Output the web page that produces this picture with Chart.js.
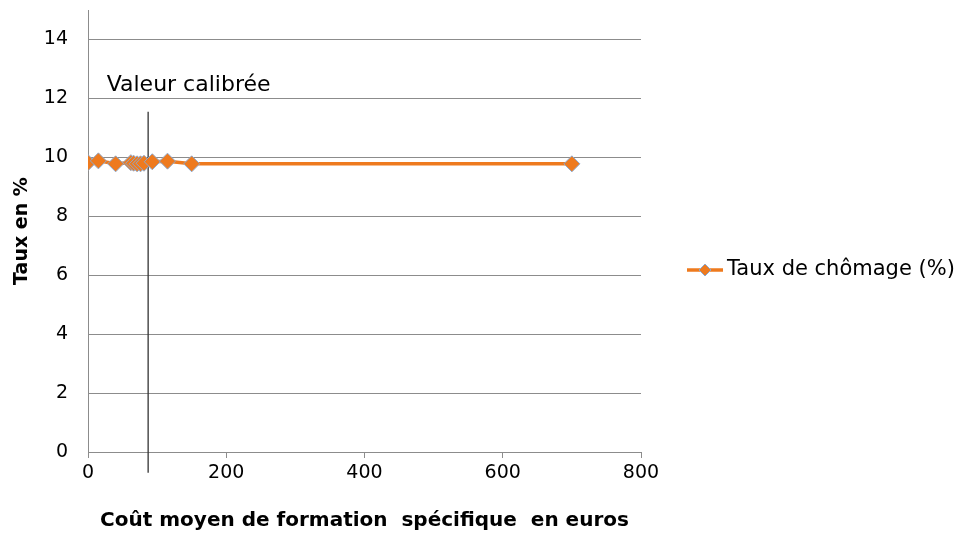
<!DOCTYPE html>
<html lang="fr">
<head>
<meta charset="UTF-8">
<title>Taux de chômage selon le coût de formation</title>
<style>
  html, body { margin: 0; padding: 0; background: #fff; }
  #wrap { position: relative; width: 961px; height: 533px; }
</style>
</head>
<body>
<div id="wrap"><canvas id="chomage"></canvas></div>

<script src="https://cdn.jsdelivr.net/npm/chart.js"></script>
<script>
// coût moyen de formation spécifique (euros) et taux de chômage (%)
const couts = [0, 15, 40, 62, 66, 71, 76, 81, 93, 115, 150, 700];
const taux  = [9.82, 9.88, 9.78, 9.82, 9.8, 9.78, 9.78, 9.8, 9.85, 9.87, 9.78, 9.78];

// repère vertical : valeur calibrée
const coutCalibre = [87, 87];
const repereY = [11.55, -0.7];

const xTicks = [0, 200, 400, 600, 800];
const yTicks = [0, 2, 4, 6, 8, 10, 12, 14];

const serieNom = 'Taux de chômage (%)';
const repereNom = 'Valeur calibrée';
const orange = '#EE7A1E';
const police = '"DejaVu Sans", "Open Sans", sans-serif';
const gris = '#8c8c8c';

// texte "Valeur calibrée" posé au-dessus du repère
const labelRepere = {
  id: 'labelRepere',
  afterDatasetsDraw(chart) {
    const { ctx, scales } = chart;
    ctx.save();
    ctx.font = '22px ' + police;
    ctx.fillStyle = '#000';
    ctx.textAlign = 'left';
    ctx.textBaseline = 'middle';
    ctx.fillText(repereNom, scales.x.getPixelForValue(27), scales.y.getPixelForValue(12.45));
    ctx.restore();
  }
};

// légende à droite : trait + losange
const legendeDroite = {
  id: 'legendeDroite',
  afterDraw(chart) {
    const { ctx } = chart;
    const x0 = 687, y0 = 270;
    ctx.save();
    ctx.strokeStyle = orange;
    ctx.lineWidth = 3.5;
    ctx.beginPath();
    ctx.moveTo(x0, y0);
    ctx.lineTo(x0 + 36, y0);
    ctx.stroke();
    ctx.beginPath();
    ctx.moveTo(x0 + 18, y0 - 6);
    ctx.lineTo(x0 + 24, y0);
    ctx.lineTo(x0 + 18, y0 + 6);
    ctx.lineTo(x0 + 12, y0);
    ctx.closePath();
    ctx.fillStyle = orange;
    ctx.fill();
    ctx.strokeStyle = '#8ea8cc';
    ctx.lineWidth = 1;
    ctx.stroke();
    ctx.font = '21px ' + police;
    ctx.fillStyle = '#000';
    ctx.textAlign = 'left';
    ctx.textBaseline = 'middle';
    ctx.fillText(serieNom, x0 + 40, y0);
    ctx.restore();
  }
};

new Chart(document.getElementById('chomage'), {
  type: 'line',
  data: {
    datasets: [
      {
        label: serieNom,
        data: couts.map((c, i) => ({ x: c, y: taux[i] })),
        borderColor: orange,
        backgroundColor: orange,
        borderWidth: 3.5,
        pointStyle: 'rectRot',
        pointRadius: 8,
        pointBorderColor: '#8ea8cc',
        pointBorderWidth: 1,
        pointBackgroundColor: orange,
        tension: 0
      },
      {
        label: repereNom,
        data: coutCalibre.map((c, i) => ({ x: c, y: repereY[i] })),
        borderColor: '#333',
        borderWidth: 1.3,
        pointRadius: 0,
        clip: false
      }
    ]
  },
  options: {
    responsive: true,
    maintainAspectRatio: false,
    animation: false,
    layout: { padding: { top: 10, right: 320, left: 0, bottom: 0 } },
    plugins: {
      legend: { display: false },
      tooltip: { enabled: false }
    },
    scales: {
      x: {
        type: 'linear',
        min: 0,
        max: 800,
        afterBuildTicks: s => { s.ticks = xTicks.map(v => ({ value: v })); },
        afterFit: s => { s.height = 81; s.paddingLeft = 0; s.paddingRight = 0; },
        grid: { drawOnChartArea: false, drawTicks: true, tickLength: 6, color: gris },
        border: { color: gris, width: 1 },
        ticks: { font: { family: police, size: 19 }, color: '#000', padding: 4, maxRotation: 0 },
        title: {
          display: true,
          text: 'Coût moyen de formation  spécifique  en euros',
          font: { family: police, size: 20, weight: 'bold' },
          color: '#000',
          padding: { top: 3, bottom: 0 }
        }
      },
      y: {
        min: 0,
        max: 15,
        afterBuildTicks: s => { s.ticks = yTicks.map(v => ({ value: v })); },
        afterFit: s => { s.width = 88; s.paddingTop = 0; s.paddingBottom = 0; },
        grid: { drawTicks: false, color: gris },
        border: { color: gris, width: 1 },
        ticks: { font: { family: police, size: 19 }, color: '#000', padding: 20 },
        title: {
          display: true,
          text: 'Taux en %',
          font: { family: police, size: 19, weight: 'bold' },
          color: '#000',
          padding: { top: 11, bottom: 0 }
        }
      }
    }
  },
  plugins: [labelRepere, legendeDroite]
});
</script>
</body>
</html>
